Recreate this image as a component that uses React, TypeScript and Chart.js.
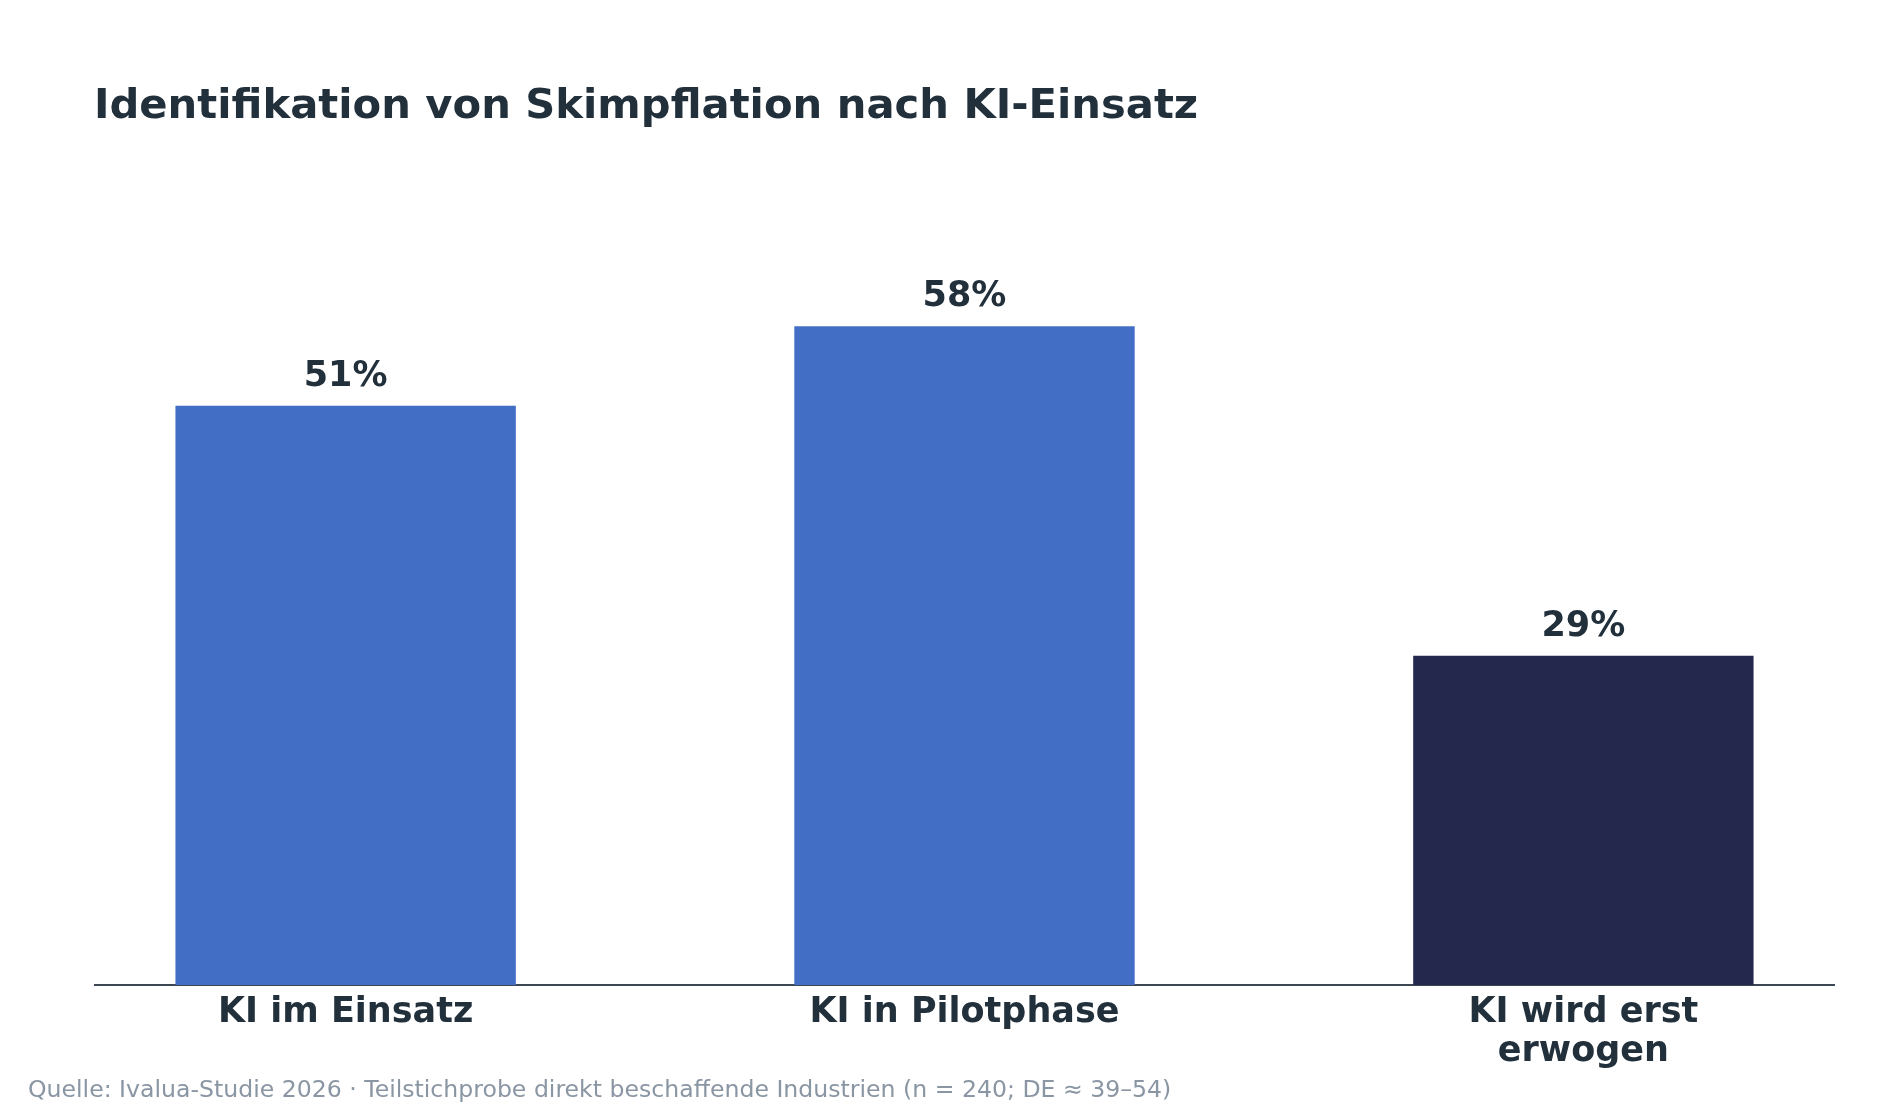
import { useEffect, useRef } from 'react';
import { Chart, registerables } from 'chart.js';

Chart.register(...registerables);

const categories = ['KI im Einsatz', 'KI in Pilotphase', 'KI wird erst erwogen'];
const tickLabels = [['KI im Einsatz'], ['KI in Pilotphase'], ['KI wird erst', 'erwogen']];
const values = [51, 58, 29];
const barColors = ['#426ec5', '#426ec5', '#25284d'];

const FONT = "'DejaVu Sans', sans-serif";
const TEXT = '#22303c';

// value labels above each bar
const valueLabels = {
  id: 'valueLabels',
  afterDatasetsDraw(chart: any) {
    const { ctx } = chart;
    const meta = chart.getDatasetMeta(0);
    ctx.save();
    ctx.font = `bold 35px ${FONT}`;
    ctx.fillStyle = TEXT;
    ctx.textAlign = 'center';
    ctx.textBaseline = 'alphabetic';
    meta.data.forEach((bar: any, i: number) => {
      ctx.fillText(`${values[i]}%`, bar.x, bar.y - 20);
    });
    ctx.restore();
  },
};

export default function App() {
  const canvasRef = useRef<HTMLCanvasElement>(null);

  useEffect(() => {
    if (!canvasRef.current) return;
    const chart = new Chart(canvasRef.current, {
      type: 'bar',
      data: {
        labels: categories,
        datasets: [
          {
            label: 'Identifikation von Skimpflation',
            data: values.map((v, i) => ({ x: i, y: v })) as any,
            backgroundColor: barColors,
            borderWidth: 0,
            categoryPercentage: 1,
            barPercentage: 0.55,
          },
        ],
      },
      options: {
        animation: false,
        responsive: true,
        maintainAspectRatio: false,
        layout: { padding: { left: 95, right: 66, top: 190, bottom: 0 } },
        plugins: {
          legend: { display: false },
          tooltip: { enabled: false },
          title: { display: false },
        },
        scales: {
          x: {
            type: 'linear',
            min: -0.405,
            max: 2.405,
            offset: false,
            afterBuildTicks: (scale: any) => {
              scale.ticks = categories.map((_, i) => ({ value: i }));
            },
            afterFit: (scale: any) => {
              scale.height = 135;
            },
            grid: { display: false, drawTicks: false, offset: false },
            border: { display: true, color: '#3d4653', width: 2 },
            ticks: {
              autoSkip: false,
              maxRotation: 0,
              padding: 8,
              color: TEXT,
              font: { family: FONT, size: 35, weight: 'bold', lineHeight: 1.12 },
              callback: (v: any) => tickLabels[Number(v)] ?? '',
            },
          },
          y: {
            display: false,
            min: 0,
            max: 70,
          },
        },
      },
      plugins: [valueLabels],
    } as any);
    return () => chart.destroy();
  }, []);

  return (
    <div
      style={{
        position: 'absolute',
        left: 0,
        top: 0,
        width: 1900,
        height: 1120,
        background: '#ffffff',
        fontFamily: FONT,
      }}
    >
      <canvas ref={canvasRef} />
      <div
        style={{
          position: 'absolute',
          left: 94,
          top: 79,
          fontSize: 41.7,
          lineHeight: '50px',
          fontWeight: 'bold',
          color: TEXT,
          whiteSpace: 'nowrap',
        }}
      >
        Identifikation von Skimpflation nach KI-Einsatz
      </div>
      <div
        style={{
          position: 'absolute',
          left: 28,
          top: 1075,
          fontSize: 23.6,
          lineHeight: '28px',
          color: '#8a96a3',
          whiteSpace: 'nowrap',
        }}
      >
        Quelle: Ivalua-Studie 2026 · Teilstichprobe direkt beschaffende Industrien (n = 240; DE ≈ 39–54)
      </div>
    </div>
  );
}
